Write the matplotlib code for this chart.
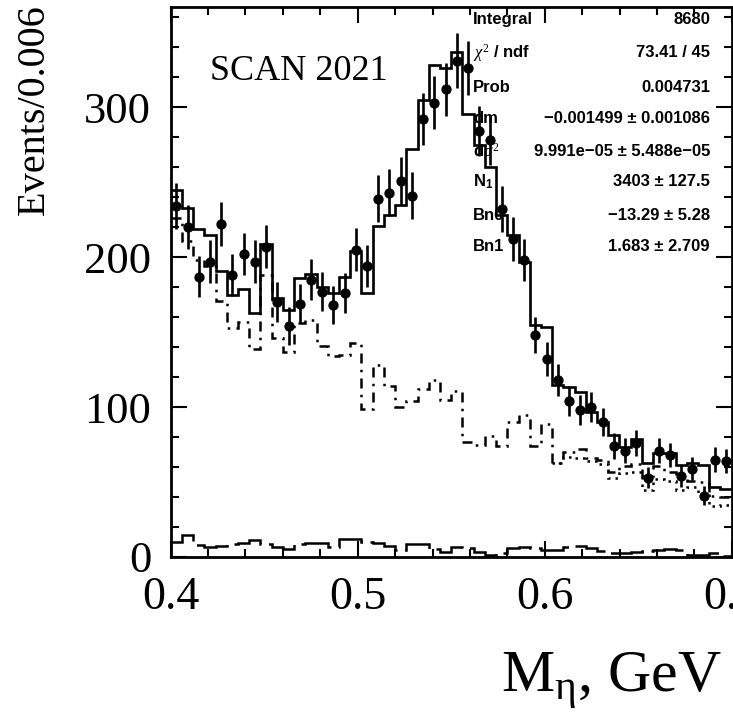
import numpy as np
import matplotlib
matplotlib.use('Agg')
import matplotlib.pyplot as plt
from matplotlib.ticker import MultipleLocator

plt.rcParams['mathtext.fontset'] = 'custom'
plt.rcParams['mathtext.rm'] = 'Liberation Serif'
plt.rcParams['mathtext.it'] = 'Liberation Serif:italic'
plt.rcParams['mathtext.bf'] = 'Liberation Sans:bold'

# binning: 50 bins of 0.006 GeV
x_lo, x_hi, nbins = 0.4, 0.7, 50

# data points (events per bin)
data = [234, 220, 187, 197, 222, 188, 202, 197, 207, 170,
        154, 169, 185, 177, 168, 176, 205, 194, 239, 243,
        251, 241, 292, 303, 312, 331, 326, 284, 278, 232,
        212, 198, 148, 132, 118, 104, 98, 100, 90, 74,
        71, 76, 53, 71, 68, 54, 59, 41, 65, 64]

# total fit (solid)
fit = [244.7, 232.5, 219, 214.5, 191, 175, 179, 163, 208.7, 172.4,
       164.7, 186, 188.5, 180, 176, 187, 204, 176, 221, 228,
       235, 272, 305, 328, 326, 336.5, 295.5, 275, 260, 228,
       214.7, 197, 155, 153.6, 114.5, 113.3, 110, 96.5, 90.2, 81.3,
       73.6, 78.4, 62.9, 69.6, 69.6, 61.3, 62.4, 61.3, 46.9, 45.1]

# background components
bkg_main = [226, 211, 198, 194, 171, 153, 157, 139, 188, 146,
            137, 156, 158, 141, 134, 135, 143, 99, 128, 114,
            100, 104, 112, 118, 104.5, 111, 77, 75, 81, 74,
            90, 95, 74, 89, 63, 70, 72, 66, 65, 57,
            61, 62, 54, 61, 57, 54, 51, 50, 41, 40]
# second background, differs from bkg_main only from bin 34 on
bkg_alt_first_bin = 34
bkg_alt = [63, 67, 66, 64, 62, 53, 56, 57, 45, 52, 51, 45, 47, 43, 34, 35]

bkg_small = [10, 14.7, 8, 7, 7.6, 8.4, 9.6, 11.3, 9, 6.9,
             5.1, 8.7, 9.1, 9.1, 6.9, 11.8, 11.8, 10.2, 9.6, 7.3,
             4.5, 8.4, 8.4, 5.1, 3.6, 6.9, 6.2, 3.6, 1.3, 2.5,
             5.8, 6.9, 5.8, 4.7, 5, 6.9, 7.6, 5.8, 4.2, 3,
             2.4, 3.6, 4.2, 4.5, 5.1, 4.7, 1.6, 1.3, 2.4, 1]

stat_names = ['Integral', r'$\chi^{2}$ / ndf', 'Prob', 'dm', r'd$\sigma^{2}$',
              r'N$_{\mathbf{1}}$', 'Bn0', 'Bn1']
stat_values = ['8680', '73.41 / 45', '0.004731', '\u22120.001499 \u00b1 0.001086',
               '9.991e\u221205 \u00b1 5.488e\u221205', '3403 \u00b1 127.5',
               '\u221213.29 \u00b1 5.28', '1.683 \u00b1 2.709']

edges = np.linspace(x_lo, x_hi, nbins + 1)
centers = 0.5 * (edges[:-1] + edges[1:])

W, H = 733, 712
fig = plt.figure(figsize=(W / 100, H / 100), dpi=100)
ax = fig.add_axes([170.7 / W, 155 / H, 561 / W, 550 / H])

lw = 1.9
ax.stairs(fit, edges, baseline=None, color='black', lw=lw, zorder=4)
ax.stairs(bkg_main, edges, baseline=None, color='black', lw=1.8,
          linestyle=(0, (4, 2.5, 1, 2.5)), zorder=3)
ax.stairs(bkg_alt, edges[bkg_alt_first_bin:], baseline=None, color='black', lw=1.8,
          linestyle=(0, (1, 2)), zorder=3)
ax.stairs(bkg_small, edges, baseline=None, color='black', lw=1.8,
          linestyle=(0, (14, 3)), zorder=3)

d = np.array(data, dtype=float)
ax.errorbar(centers, d, yerr=np.sqrt(d), fmt='o', color='black', ms=6.4,
            elinewidth=1.9, capsize=0, zorder=5)

ax.set_xlim(x_lo, x_hi)
ax.set_ylim(0, 366.7)
ax.xaxis.set_major_locator(MultipleLocator(0.1))
ax.xaxis.set_minor_locator(MultipleLocator(0.02))
ax.yaxis.set_major_locator(MultipleLocator(100))
ax.yaxis.set_minor_locator(MultipleLocator(20))
ax.tick_params(which='both', direction='in', top=True, right=True, width=1.5, color='black')
ax.tick_params(which='major', length=11.5)
ax.tick_params(which='minor', length=5.8)
ax.tick_params(axis='x', which='major', pad=14, labelsize=33)
ax.tick_params(axis='y', which='major', pad=14, labelsize=32)
for lab in ax.get_xticklabels() + ax.get_yticklabels():
    lab.set_family('Liberation Serif')
for s in ax.spines.values():
    s.set_linewidth(2.0)

# stats box text (drawn under the histograms)
label_x = (473 - 170.7) / 561
value_x = (710 - 170.7) / 561
rows_px = [20, 53, 87, 119, 151, 182, 216, 247]
for name, val, py in zip(stat_names, stat_values, rows_px):
    ty = (557 - py) / 550
    ax.text(label_x, ty, name, transform=ax.transAxes, ha='left', va='center',
            fontsize=12, fontweight='bold', family='Liberation Sans', zorder=1)
    ax.text(value_x, ty, val, transform=ax.transAxes, ha='right', va='center',
            fontsize=12, fontweight='bold', family='Liberation Sans', zorder=1)

ax.text((210 - 170.7) / 561, (557 - 72) / 550, 'SCAN 2021', transform=ax.transAxes,
        ha='left', va='center', fontsize=26, family='Liberation Serif', zorder=1)

fig.text(34 / W, 1 - 4 / H, 'Events/0.006', rotation=90, ha='center', va='top',
         fontsize=29, family='Liberation Serif')
fig.text(722 / W, 1 - 692 / H, r'M$_{\mathrm{\eta}}$, GeV', ha='right', va='baseline',
         fontsize=43, family='Liberation Serif')

fig.savefig('out.png', dpi=100)
